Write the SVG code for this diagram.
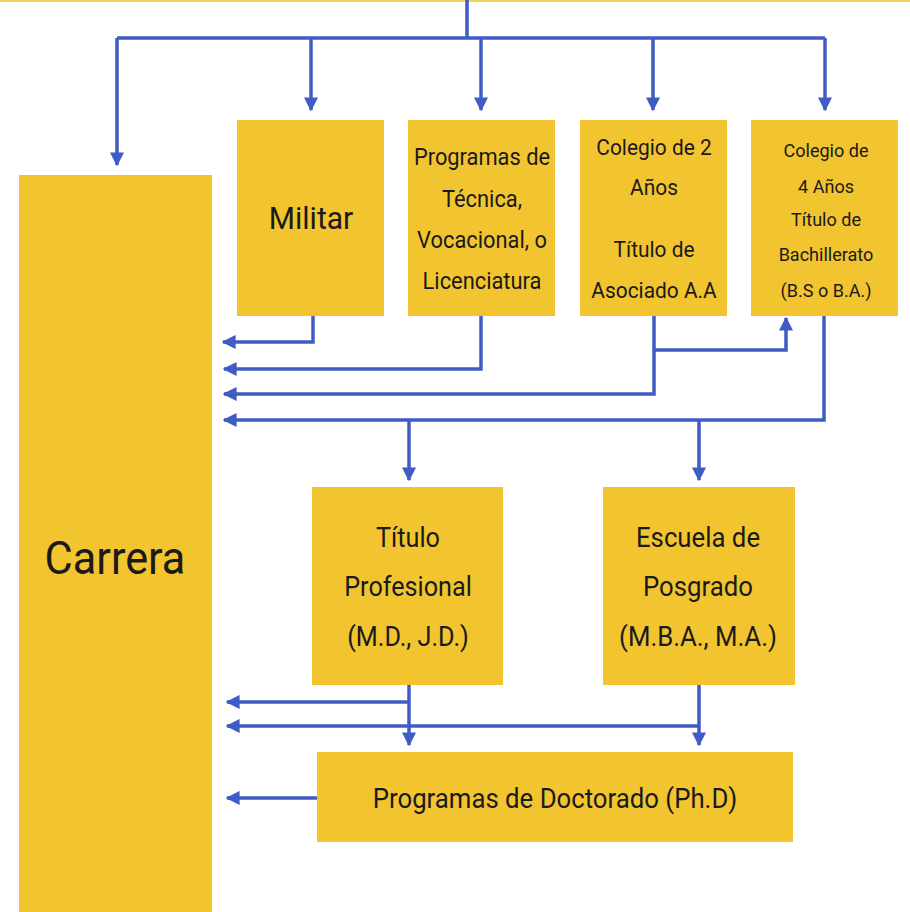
<svg xmlns="http://www.w3.org/2000/svg" width="910" height="912" viewBox="0 0 910 912">
<defs>
<marker id="ah" viewBox="0 0 10 10" refX="9" refY="5" markerWidth="4" markerHeight="4" orient="auto" markerUnits="strokeWidth">
<path d="M0,0 L10,5 L0,10 z" fill="#3F5BC4"/>
</marker>
<style>
.box{fill:#F2C42F}
.c{fill:none;stroke:#3F5BC4;stroke-width:3.5}
.a{marker-end:url(#ah)}
text{font-family:Roboto,"Liberation Sans",sans-serif;fill:#1a1a1a;text-anchor:middle}
</style>
</defs>
<rect width="910" height="912" fill="#ffffff"/>
<rect x="0" y="0" width="910" height="2" fill="#F5D35A"/>
<g id="connectors">
<path class="c" d="M467,0 V38"/>
<path class="c" d="M117,38 H825"/>
<path class="c a" d="M117,38 V165"/>
<path class="c a" d="M311,38 V110"/>
<path class="c a" d="M481,38 V110"/>
<path class="c a" d="M653,38 V110"/>
<path class="c a" d="M825,38 V110"/>
<path class="c a" d="M313,316 V342 H223"/>
<path class="c a" d="M481,316 V369 H224"/>
<path class="c a" d="M654,316 V394 H224"/>
<path class="c a" d="M654,350 H786 V318"/>
<path class="c a" d="M824,316 V420 H224"/>
<path class="c a" d="M409,420 V480"/>
<path class="c a" d="M699,420 V480"/>
<path class="c a" d="M409,685 V745"/>
<path class="c a" d="M409,702 H227"/>
<path class="c a" d="M699,685 V745"/>
<path class="c a" d="M699,726 H227"/>
<path class="c a" d="M317,798 H227"/>
</g>
<g id="carrera">
<rect class="box" x="19" y="175" width="193" height="737"/>
<text transform="translate(115,574) scale(0.94,1)" font-size="46">Carrera</text>
</g>
<g id="militar">
<rect class="box" x="237" y="120" width="147" height="196"/>
<text transform="translate(311,229) scale(0.97,1)" font-size="31">Militar</text>
</g>
<g id="programas">
<rect class="box" x="408" y="120" width="147" height="196"/>
<text transform="translate(482,0) scale(0.95,1)" font-size="23"><tspan x="0" y="165">Programas de</tspan><tspan x="0" y="207">Técnica,</tspan><tspan x="0" y="248">Vocacional, o</tspan><tspan x="0" y="289">Licenciatura</tspan></text>
</g>
<g id="colegio2">
<rect class="box" x="580" y="120" width="147" height="196"/>
<text transform="translate(654,0) scale(0.95,1)" font-size="22"><tspan x="0" y="155">Colegio de 2</tspan><tspan x="0" y="195">Años</tspan><tspan x="0" y="257">Título de</tspan><tspan x="0" y="298">Asociado A.A</tspan></text>
</g>
<g id="colegio4">
<rect class="box" x="751" y="120" width="147" height="196"/>
<text transform="translate(826,0) scale(0.95,1)" font-size="19"><tspan x="0" y="157">Colegio de</tspan><tspan x="0" y="193">4 Años</tspan><tspan x="0" y="226">Título de</tspan><tspan x="0" y="261">Bachillerato</tspan><tspan x="0" y="297">(B.S o B.A.)</tspan></text>
</g>
<g id="profesional">
<rect class="box" x="312" y="487" width="191" height="198"/>
<text transform="translate(408,0) scale(0.9,1)" font-size="28"><tspan x="0" y="547">Título</tspan><tspan x="0" y="596">Profesional</tspan><tspan x="0" y="646">(M.D., J.D.)</tspan></text>
</g>
<g id="posgrado">
<rect class="box" x="603" y="487" width="192" height="198"/>
<text transform="translate(698,0) scale(0.92,1)" font-size="28"><tspan x="0" y="547">Escuela de</tspan><tspan x="0" y="596">Posgrado</tspan><tspan x="0" y="646">(M.B.A., M.A.)</tspan></text>
</g>
<g id="doctorado">
<rect class="box" x="317" y="752" width="476" height="90"/>
<text transform="translate(555,808) scale(0.92,1)" font-size="28">Programas de Doctorado (Ph.D)</text>
</g>
</svg>
